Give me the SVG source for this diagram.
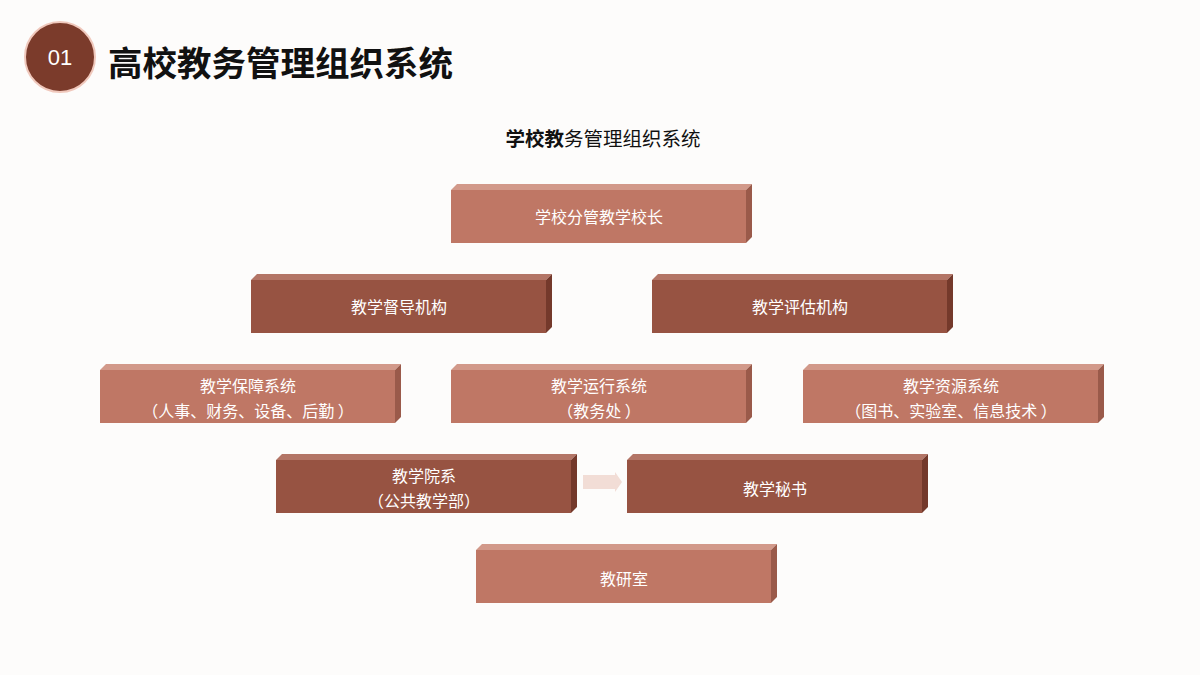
<svg xmlns="http://www.w3.org/2000/svg" width="1200" height="675" viewBox="0 0 1200 675">
<style>
text{font-family:"Noto Sans CJK SC","Liberation Sans",sans-serif}
.t{fill:#fff;font-size:16px;text-anchor:middle}
.L .f{fill:#bf7765}.L .tp{fill:#d2998a}.L .sd{fill:#9a5a4a}
.D .f{fill:#975342}.D .tp{fill:#b37566}.D .sd{fill:#74392b}
</style>
<rect width="1200" height="675" fill="#fdfcfb"/>
<circle cx="60" cy="57" r="35" fill="#7b3b2b" stroke="#f0c8bc" stroke-width="2"/>
<text x="60" y="65" fill="#fff" font-size="22" text-anchor="middle" style="font-family:'Liberation Sans',sans-serif">01</text>
<text x="108" y="76" font-size="34.5" font-weight="bold" fill="#111">高校教务管理组织系统</text>
<text x="603" y="146" font-size="19.5" text-anchor="middle" fill="#111"><tspan font-weight="bold">学校教</tspan>务管理组织系统</text>
<g id="connectors">
<polygon points="583,475 615,475 615,472 622,482 615,492 615,489 583,489" fill="#f2ddd6"/>
</g>
<g id="n1" class="L" transform="translate(451,190)"><polygon class="tp" points="0,0 6,-6 301,-6 295,0"/><polygon class="sd" points="295,0 301,-6 301,47 295,53"/><rect class="f" width="295" height="53"/><text class="t" x="148" y="33">学校分管教学校长</text></g>
<g id="n2" class="D" transform="translate(251,280)"><polygon class="tp" points="0,0 6,-6 301,-6 295,0"/><polygon class="sd" points="295,0 301,-6 301,47 295,53"/><rect class="f" width="295" height="53"/><text class="t" x="148" y="33">教学督导机构</text></g>
<g id="n3" class="D" transform="translate(652,280)"><polygon class="tp" points="0,0 6,-6 301,-6 295,0"/><polygon class="sd" points="295,0 301,-6 301,47 295,53"/><rect class="f" width="295" height="53"/><text class="t" x="148" y="33">教学评估机构</text></g>
<g id="n4" class="L" transform="translate(100,370)"><polygon class="tp" points="0,0 6,-6 301,-6 295,0"/><polygon class="sd" points="295,0 301,-6 301,47 295,53"/><rect class="f" width="295" height="53"/><text class="t" x="148" y="22">教学保障系统</text><text class="t" x="148" y="47">（人事、财务、设备、后勤 ）</text></g>
<g id="n5" class="L" transform="translate(451,370)"><polygon class="tp" points="0,0 6,-6 301,-6 295,0"/><polygon class="sd" points="295,0 301,-6 301,47 295,53"/><rect class="f" width="295" height="53"/><text class="t" x="148" y="22">教学运行系统</text><text class="t" x="148" y="47">（教务处 ）</text></g>
<g id="n6" class="L" transform="translate(803,370)"><polygon class="tp" points="0,0 6,-6 301,-6 295,0"/><polygon class="sd" points="295,0 301,-6 301,47 295,53"/><rect class="f" width="295" height="53"/><text class="t" x="148" y="22">教学资源系统</text><text class="t" x="148" y="47">（图书、实验室、信息技术 ）</text></g>
<g id="n7" class="D" transform="translate(276,460)"><polygon class="tp" points="0,0 6,-6 301,-6 295,0"/><polygon class="sd" points="295,0 301,-6 301,47 295,53"/><rect class="f" width="295" height="53"/><text class="t" x="148" y="22">教学院系</text><text class="t" x="148" y="47">（公共教学部）</text></g>
<g id="n8" class="D" transform="translate(627,460)"><polygon class="tp" points="0,0 6,-6 301,-6 295,0"/><polygon class="sd" points="295,0 301,-6 301,47 295,53"/><rect class="f" width="295" height="53"/><text class="t" x="148" y="35">教学秘书</text></g>
<g id="n9" class="L" transform="translate(476,550)"><polygon class="tp" points="0,0 6,-6 301,-6 295,0"/><polygon class="sd" points="295,0 301,-6 301,47 295,53"/><rect class="f" width="295" height="53"/><text class="t" x="148" y="35">教研室</text></g>
</svg>
